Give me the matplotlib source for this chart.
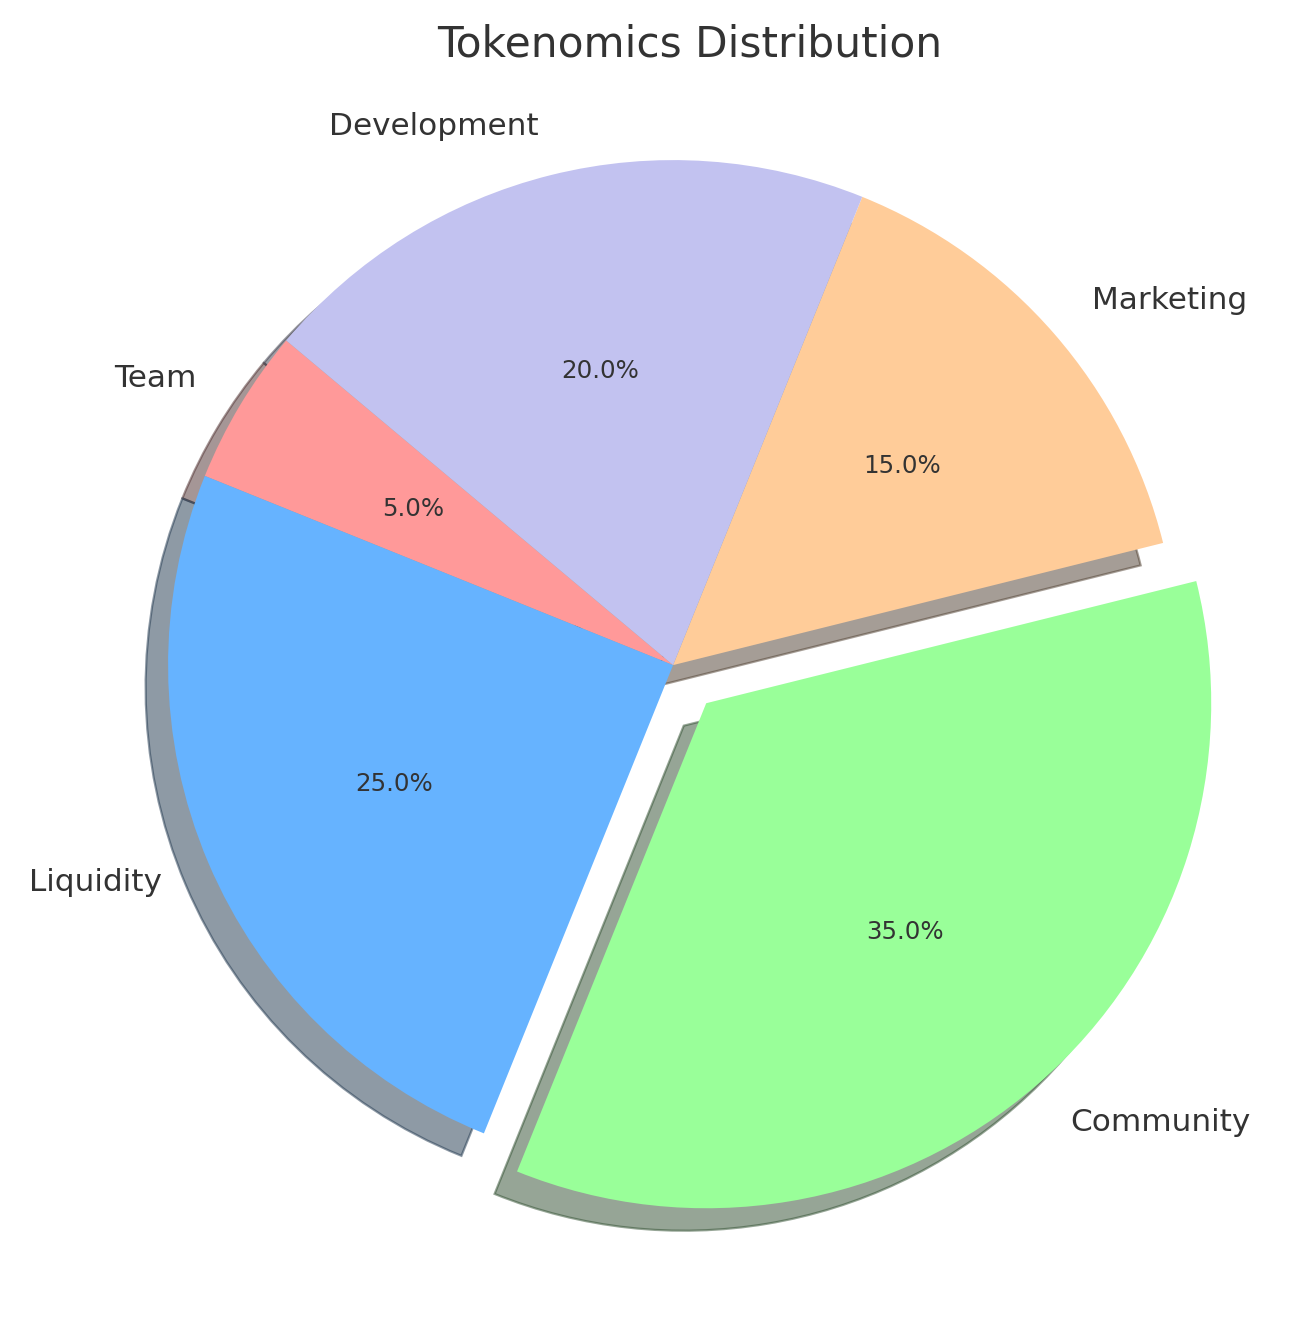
import matplotlib.pyplot as plt

labels = ['Team', 'Liquidity', 'Community', 'Marketing', 'Development']
sizes = [5, 25, 35, 15, 20]
colors = ['#ff9999', '#66b3ff', '#99ff99', '#ffcc99', '#c2c2f0']
explode = (0, 0, 0.1, 0, 0)

plt.rcParams['text.color'] = '#333333'
fig, ax = plt.subplots(figsize=(8.106, 8.2625), dpi=160)
ax.pie(sizes, labels=labels, colors=colors, explode=explode, autopct='%1.1f%%',
       startangle=140, shadow=True, textprops={'fontsize': 11, 'color': '#333333'})
for t in ax.texts:
    if '%' not in t.get_text():
        t.set_fontsize(14)
ax.set_title('Tokenomics Distribution', fontsize=19, color='#333333')
ax.axis('equal')
plt.tight_layout()
plt.savefig('out.png')
